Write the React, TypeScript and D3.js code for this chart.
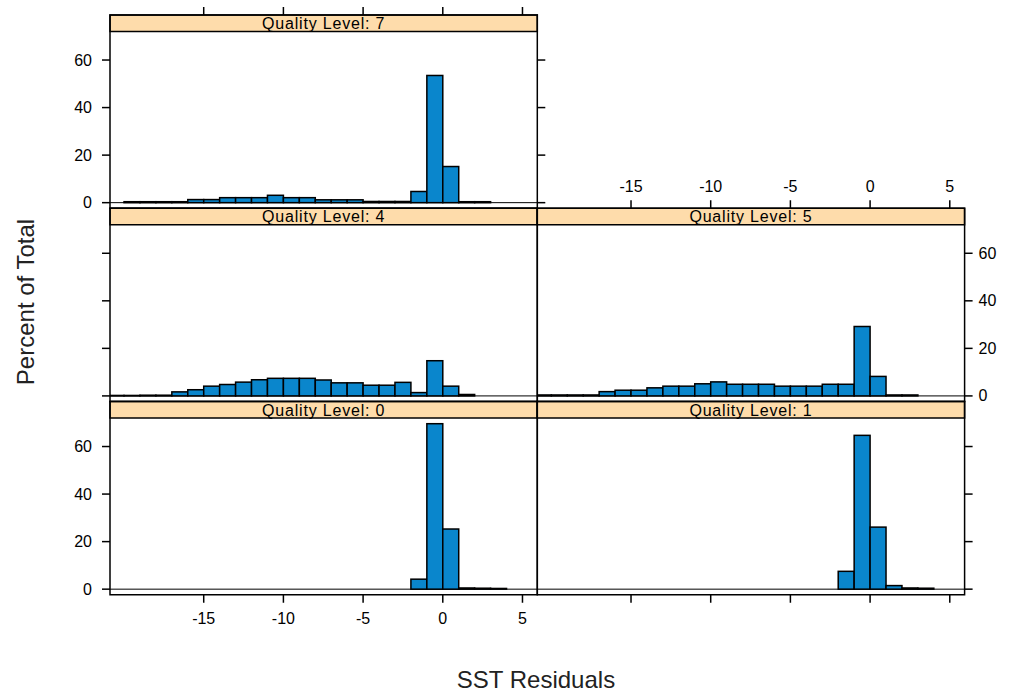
import React from "react";
import * as d3 from "d3";

// histogram breaks: lower edges of the 1-unit bins
const binStarts = [-21, -20, -19, -18, -17, -16, -15, -14, -13, -12, -11, -10, -9, -8, -7, -6, -5, -4, -3, -2, -1, 0, 1, 2, 3];

// percent of total per bin, one array per quality level
const q0 = [0, 0, 0, 0, 0, 0, 0, 0, 0, 0, 0, 0, 0, 0, 0, 0, 0, 0, 0, 4.2, 69.6, 25.3, 0.5, 0.4, 0.3];
const q1 = [0, 0, 0, 0, 0, 0, 0, 0, 0, 0, 0, 0, 0, 0, 0, 0, 0, 0, 0, 7.5, 64.7, 26.1, 1.5, 0.5, 0.4];
const q4 = [0.2, 0.2, 0.3, 0.3, 1.7, 2.6, 4.1, 4.8, 5.8, 6.8, 7.4, 7.4, 7.4, 6.7, 5.5, 5.5, 4.5, 4.5, 5.7, 1.4, 14.8, 4.1, 0.6, 0, 0];
const q5 = [0.4, 0.4, 0.4, 0.4, 1.8, 2.4, 2.4, 3.4, 4.1, 4.1, 5.1, 5.9, 4.9, 4.9, 4.9, 4.1, 4.1, 4.1, 4.9, 4.9, 29.2, 8.2, 0.4, 0.4, 0];
const q7 = [0, 0.4, 0.4, 0.4, 0.4, 1.3, 1.3, 2.1, 2.1, 2.1, 3.1, 2.1, 2.1, 1.2, 1.2, 1.2, 0.5, 0.5, 0.5, 4.7, 53.5, 15.2, 0.4, 0.4, 0];

const xTicks = [-15, -10, -5, 0, 5];
const yTicks = [0, 20, 40, 60];

type Panel = {
  label: string;
  values: number[];
  col: number;
  row: number; // 0 = top row
  left?: "ticks" | "labels";
  right?: "ticks" | "labels";
  top?: "ticks" | "labels";
  bottom?: "ticks" | "labels";
};

const panels: Panel[] = [
  { label: "Quality Level: 7", values: q7, col: 0, row: 0, left: "labels", right: "ticks", top: "ticks" },
  { label: "Quality Level: 4", values: q4, col: 0, row: 1, left: "ticks" },
  { label: "Quality Level: 5", values: q5, col: 1, row: 1, right: "labels", top: "labels" },
  { label: "Quality Level: 0", values: q0, col: 0, row: 2, left: "labels", bottom: "labels" },
  { label: "Quality Level: 1", values: q1, col: 1, row: 2, right: "ticks", bottom: "ticks" },
];

const W = 1011;
const H = 693;
const colX = [110, 537.3];
const colW = 427.3;
const rowY = [15, 208.25, 401.5];
const rowH = 193.25;
const stripH = 16.5;
const tick = 8;
const font = "'Liberation Sans', Arial, sans-serif";
const barFill = "#0a86cc";
const stripFill = "#fedcab";

const fmt = (t: number) => d3.format("d")(t).replace("\u2212", "-");

const PanelView: React.FC<{ p: Panel; i: number }> = ({ p, i }) => {
  const x0 = colX[p.col];
  const x1 = x0 + colW;
  const top = rowY[p.row];
  const plotTop = top + stripH;
  const plotBottom = top + rowH;

  const x = d3.scaleLinear().domain([-20.88, 5.93]).range([x0, x1]);
  const y = d3.scaleLinear().domain([-2.35, 72]).range([plotBottom, plotTop]);
  const clipId = `clip-${i}`;

  return (
    <g>
      <defs>
        <clipPath id={clipId}>
          <rect x={x0} y={plotTop} width={colW} height={plotBottom - plotTop} />
        </clipPath>
      </defs>
      <g clipPath={`url(#${clipId})`}>
        <line x1={x0} x2={x1} y1={y(0)} y2={y(0)} stroke="#000" strokeWidth={1} />
        {p.values.map((v, k) =>
          v > 0 ? (
            <rect
              key={k}
              x={x(binStarts[k])}
              y={y(v)}
              width={x(binStarts[k] + 1) - x(binStarts[k])}
              height={y(0) - y(v)}
              fill={barFill}
              stroke="#000"
              strokeWidth={1.5}
            />
          ) : null
        )}
      </g>
      {/* strip */}
      <rect x={x0} y={top} width={colW} height={stripH} fill={stripFill} stroke="#000" strokeWidth={1.5} />
      <text
        x={(x0 + x1) / 2}
        y={top + stripH - 2.5}
        textAnchor="middle"
        fontFamily={font}
        fontSize={16}
        letterSpacing={0.8}
        fill="#000"
      >
        {p.label}
      </text>
      {/* panel frame */}
      <rect x={x0} y={top} width={colW} height={rowH} fill="none" stroke="#000" strokeWidth={1.5} />

      {p.left &&
        yTicks.map((t) => (
          <g key={`l${t}`}>
            <line x1={x0 - tick} x2={x0} y1={y(t)} y2={y(t)} stroke="#000" strokeWidth={1.5} />
            {p.left === "labels" && (
              <text x={x0 - 18} y={y(t) + 5.5} textAnchor="end" fontFamily={font} fontSize={16} fill="#000">
                {t}
              </text>
            )}
          </g>
        ))}
      {p.right &&
        yTicks.map((t) => (
          <g key={`r${t}`}>
            <line x1={x1} x2={x1 + tick} y1={y(t)} y2={y(t)} stroke="#000" strokeWidth={1.5} />
            {p.right === "labels" && (
              <text x={x1 + 14} y={y(t) + 5.5} textAnchor="start" fontFamily={font} fontSize={16} fill="#000">
                {t}
              </text>
            )}
          </g>
        ))}
      {p.top &&
        xTicks.map((t) => (
          <g key={`t${t}`}>
            <line x1={x(t)} x2={x(t)} y1={top - tick} y2={top} stroke="#000" strokeWidth={1.5} />
            {p.top === "labels" && (
              <text x={x(t)} y={top - 16} textAnchor="middle" fontFamily={font} fontSize={16} fill="#000">
                {fmt(t)}
              </text>
            )}
          </g>
        ))}
      {p.bottom &&
        xTicks.map((t) => (
          <g key={`b${t}`}>
            <line x1={x(t)} x2={x(t)} y1={plotBottom} y2={plotBottom + tick} stroke="#000" strokeWidth={1.5} />
            {p.bottom === "labels" && (
              <text x={x(t)} y={plotBottom + 29} textAnchor="middle" fontFamily={font} fontSize={16} fill="#000">
                {fmt(t)}
              </text>
            )}
          </g>
        ))}
    </g>
  );
};

const App: React.FC = () => {
  return (
    <svg
      width={W}
      height={H}
      style={{ position: "absolute", left: 0, top: 0, background: "#fff" }}
    >
      {panels.map((p, i) => (
        <PanelView key={p.label} p={p} i={i} />
      ))}
      <text x={536} y={688} textAnchor="middle" fontFamily={font} fontSize={24} fill="#222">
        SST Residuals
      </text>
      <text
        transform="translate(34,302) rotate(-90)"
        textAnchor="middle"
        fontFamily={font}
        fontSize={24}
        fill="#222"
      >
        Percent of Total
      </text>
    </svg>
  );
};

export default App;
